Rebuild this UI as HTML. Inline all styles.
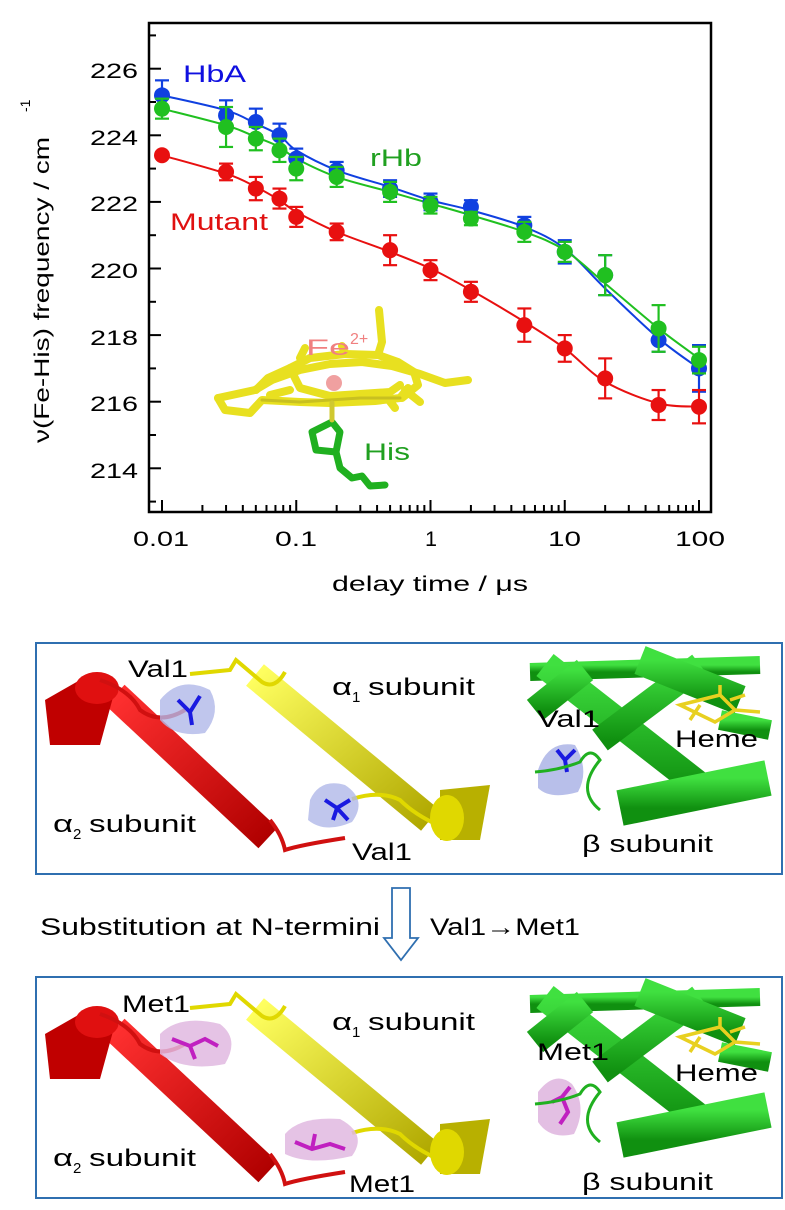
<!DOCTYPE html>
<html><head><meta charset="utf-8"><style>
html,body{margin:0;padding:0;background:#fff}
svg{display:block}
text{font-family:"Liberation Sans",Arial,sans-serif}
</style></head><body>
<svg id="s" width="785" height="1210" viewBox="0 0 785 1210" xmlns="http://www.w3.org/2000/svg">
<defs>
<linearGradient id="rg" x1="0" y1="0" x2="1" y2="1"><stop offset="0" stop-color="#ff3030"/><stop offset="1" stop-color="#b00000"/></linearGradient>
<linearGradient id="yg" x1="0" y1="0" x2="1" y2="1"><stop offset="0" stop-color="#ffff60"/><stop offset="1" stop-color="#b0a800"/></linearGradient>
<linearGradient id="gg" x1="0" y1="0" x2="0" y2="1"><stop offset="0" stop-color="#40e040"/><stop offset="1" stop-color="#109010"/></linearGradient>
</defs>
<rect x="149" y="23" width="562" height="489" fill="none" stroke="#000" stroke-width="2.5"/>
<g id="ticks" stroke="#000" stroke-width="2"></g>
<g font-size="21" fill="#000" lengthAdjust="spacingAndGlyphs">
<text x="90" y="78" textLength="48" lengthAdjust="spacingAndGlyphs">226</text>
<text x="90" y="145" textLength="48" lengthAdjust="spacingAndGlyphs">224</text>
<text x="90" y="211" textLength="48" lengthAdjust="spacingAndGlyphs">222</text>
<text x="90" y="278" textLength="48" lengthAdjust="spacingAndGlyphs">220</text>
<text x="90" y="345" textLength="48" lengthAdjust="spacingAndGlyphs">218</text>
<text x="90" y="411" textLength="48" lengthAdjust="spacingAndGlyphs">216</text>
<text x="90" y="478" textLength="48" lengthAdjust="spacingAndGlyphs">214</text>
<text x="133" y="546" textLength="56" lengthAdjust="spacingAndGlyphs">0.01</text>
<text x="275" y="546" textLength="42" lengthAdjust="spacingAndGlyphs">0.1</text>
<text x="425" y="546" textLength="12" lengthAdjust="spacingAndGlyphs">1</text>
<text x="548" y="546" textLength="33" lengthAdjust="spacingAndGlyphs">10</text>
<text x="675" y="546" textLength="50" lengthAdjust="spacingAndGlyphs">100</text>
<text x="332" y="591" textLength="196" lengthAdjust="spacingAndGlyphs">delay time / μs</text>
</g>
<text transform="translate(49,443) rotate(-90)" font-size="21" textLength="306" lengthAdjust="spacingAndGlyphs">ν(Fe-His) frequency / cm</text>
<text transform="translate(30,112) rotate(-90)" font-size="14">-1</text>
<!-- heme -->
<g stroke-linecap="round" stroke-linejoin="round" fill="none">
<g stroke="#e8e020" stroke-width="8">
<path d="M218 398 L255 390 L272 380 L300 370 L330 364 L362 362 L392 366 L420 374 L445 383 L468 380"/>
<path d="M218 398 L225 410 L250 413 L262 400 L300 402 L330 403 L375 401 L400 398 L408 388"/>
<path d="M256 390 L268 378 L290 368 L310 358 L345 354 L378 355 L398 362 L414 372 L418 385 L402 398"/>
<path d="M290 368 L300 388 L330 396 L360 394 L390 392 L400 385 M345 354 L342 346 M378 355 L382 342 L379 310 M300 358 L305 348"/>
<path d="M270 395 L290 390 M405 390 L420 402 M385 395 L395 408"/>
</g>
<g stroke="#c8c020" stroke-width="3"><path d="M262 400 L300 402 L360 398 L400 398"/></g>
<circle cx="334" cy="383" r="8" fill="#f0a0a0" stroke="none"/>
<g stroke="#20b020" stroke-width="7">
<path d="M332 422 L312 432 L316 450 L336 452 L340 432 Z"/>
<path d="M336 452 L340 468 L352 478 L362 476 L370 486 L385 485"/>
</g>
<line x1="332" y1="403" x2="332" y2="420" stroke="#d0c830" stroke-width="5"/>
</g>
<text x="306" y="355" font-size="22" fill="#f08080" textLength="44" lengthAdjust="spacingAndGlyphs">Fe</text><text x="350" y="344" font-size="16" fill="#f08080">2+</text>
<text x="364" y="460" font-size="24" fill="#20a020" textLength="46" lengthAdjust="spacingAndGlyphs">His</text>
<g id="data"></g>
<text x="183" y="82" font-size="24" fill="#1010e0" textLength="63" lengthAdjust="spacingAndGlyphs">HbA</text>
<text x="370" y="166" font-size="24" fill="#20a020" textLength="52" lengthAdjust="spacingAndGlyphs">rHb</text>
<text x="170" y="230" font-size="24" fill="#e01010" textLength="98" lengthAdjust="spacingAndGlyphs">Mutant</text>

<!-- panel 1 -->
<rect x="36" y="643" width="746" height="231" fill="none" stroke="#2f6fb0" stroke-width="2"/>
<g>
<line x1="115" y1="695" x2="268" y2="838" stroke="url(#rg)" stroke-width="28"/>
<path d="M45 700 L80 680 L115 690 L100 745 L50 745 Z" fill="#c00000"/>
<ellipse cx="97" cy="688" rx="22" ry="16" fill="#e01010"/>
<line x1="255" y1="675" x2="430" y2="820" stroke="url(#yg)" stroke-width="28"/>
<path d="M440 790 L490 785 L480 840 L440 840 Z" fill="#b8b000"/>
<ellipse cx="447" cy="818" rx="17" ry="23" fill="#e0d800"/>
<path d="M100 680 Q130 690 140 710 Q160 725 185 710" stroke="#d01010" stroke-width="4" fill="none"/>
<path d="M270 820 Q282 835 285 850 Q300 845 345 838" stroke="#d01010" stroke-width="4" fill="none"/>
<path d="M190 674 L230 670 L236 660 L262 682 Q275 690 285 672" stroke="#e0d800" stroke-width="4" fill="none"/>
<path d="M352 799 Q380 790 400 800 Q415 815 440 826" stroke="#e0d800" stroke-width="4" fill="none"/>
<path d="M160 700 Q180 675 210 690 Q222 712 205 733 Q175 738 160 720 Z" fill="#b0b8e8" opacity="0.8"/>
<path d="M310 800 Q320 778 345 785 Q368 800 352 822 Q325 834 308 820 Z" fill="#b0b8e8" opacity="0.8"/>
<path d="M178 700 L190 712 L200 696 M190 712 L192 725" stroke="#1a1ae0" stroke-width="4" fill="none"/>
<path d="M325 800 L337 808 L350 800 M337 808 L333 820 M337 808 L348 820" stroke="#1a1ae0" stroke-width="4" fill="none"/>
</g>
<g font-size="24" lengthAdjust="spacingAndGlyphs">
<text x="128" y="677" textLength="60" lengthAdjust="spacingAndGlyphs">Val1</text>
<text x="332" y="695" textLength="20" lengthAdjust="spacingAndGlyphs">α</text><text x="352" y="702" font-size="15">1</text><text x="368" y="695" textLength="107" lengthAdjust="spacingAndGlyphs">subunit</text>
<text x="53" y="832" textLength="20" lengthAdjust="spacingAndGlyphs">α</text><text x="73" y="839" font-size="15">2</text><text x="89" y="832" textLength="107" lengthAdjust="spacingAndGlyphs">subunit</text>
<text x="352" y="860" textLength="60" lengthAdjust="spacingAndGlyphs">Val1</text>
</g>
<g>
<rect x="533" y="660" width="237" height="152" fill="#fff"/>
<line x1="530" y1="672" x2="760" y2="665" stroke="url(#gg)" stroke-width="18"/>
<line x1="545" y1="665" x2="705" y2="790" stroke="url(#gg)" stroke-width="28"/>
<line x1="620" y1="808" x2="768" y2="778" stroke="url(#gg)" stroke-width="36"/>
<line x1="600" y1="740" x2="700" y2="665" stroke="url(#gg)" stroke-width="26"/>
<line x1="640" y1="660" x2="740" y2="700" stroke="url(#gg)" stroke-width="30"/>
<line x1="535" y1="710" x2="585" y2="670" stroke="url(#gg)" stroke-width="26"/>
<line x1="720" y1="720" x2="770" y2="730" stroke="url(#gg)" stroke-width="20"/>
<path d="M680 705 L700 700 L720 695 L735 710 L715 722 Z M700 705 L690 720 M730 700 L745 695 M720 695 L720 685 M735 710 L760 712" stroke="#e8d020" stroke-width="3.5" fill="none"/>
<path d="M538 770 Q548 740 575 745 Q590 770 578 792 Q550 800 538 788 Z" fill="#b0b8e8" opacity="0.9"/>
<path d="M557 750 L565 760 L575 750 M565 760 L567 772" stroke="#1a1ae0" stroke-width="4" fill="none"/>
<path d="M535 772 Q560 770 580 762 Q590 745 600 760 Q575 790 600 810" stroke="#20b020" stroke-width="3" fill="none"/>
</g>
<g font-size="24">
<text x="537" y="727" textLength="63" lengthAdjust="spacingAndGlyphs">Val1</text>
<text x="675" y="747" textLength="83" lengthAdjust="spacingAndGlyphs">Heme</text>
<text x="582" y="852" textLength="131" lengthAdjust="spacingAndGlyphs">β subunit</text>
</g>

<!-- middle -->
<text x="40" y="935" font-size="24" textLength="340" lengthAdjust="spacingAndGlyphs">Substitution at N-termini</text>
<text x="430" y="935" font-size="24" textLength="150" lengthAdjust="spacingAndGlyphs">Val1→Met1</text>
<path d="M392 888 L410 888 L410 938 L418 938 L401 960 L384 938 L392 938 Z" fill="#fff" stroke="#2f6fb0" stroke-width="1.8"/>

<!-- panel 2 -->
<rect x="36" y="977" width="746" height="221" fill="none" stroke="#2f6fb0" stroke-width="2"/>
<g transform="translate(0,334)">
<line x1="115" y1="695" x2="268" y2="838" stroke="url(#rg)" stroke-width="28"/>
<path d="M45 700 L80 680 L115 690 L100 745 L50 745 Z" fill="#c00000"/>
<ellipse cx="97" cy="688" rx="22" ry="16" fill="#e01010"/>
<line x1="255" y1="675" x2="430" y2="820" stroke="url(#yg)" stroke-width="28"/>
<path d="M440 790 L490 785 L480 840 L440 840 Z" fill="#b8b000"/>
<ellipse cx="447" cy="818" rx="17" ry="23" fill="#e0d800"/>
<path d="M100 680 Q130 690 140 710 Q160 725 185 710" stroke="#d01010" stroke-width="4" fill="none"/>
<path d="M270 820 Q282 835 285 850 Q300 845 345 838" stroke="#d01010" stroke-width="4" fill="none"/>
<path d="M190 674 L230 670 L236 660 L262 682 Q275 690 285 672" stroke="#e0d800" stroke-width="4" fill="none"/>
<path d="M352 799 Q380 790 400 800 Q415 815 440 826" stroke="#e0d800" stroke-width="4" fill="none"/>
<path d="M160 700 Q180 680 220 690 Q240 705 225 730 Q185 738 160 720 Z" fill="#e0b8e0" opacity="0.85"/>
<path d="M285 800 Q300 782 340 785 Q368 800 352 822 Q310 832 285 820 Z" fill="#e0b8e0" opacity="0.85"/>
<path d="M172 705 L190 712 L205 705 L218 712 M190 712 L195 725" stroke="#c020c0" stroke-width="4" fill="none"/>
<path d="M295 808 L312 815 L330 810 L345 815 M312 815 L315 800" stroke="#c020c0" stroke-width="4" fill="none"/>
</g>
<g font-size="24">
<text x="122" y="1012" textLength="68" lengthAdjust="spacingAndGlyphs">Met1</text>
<text x="332" y="1030" textLength="20" lengthAdjust="spacingAndGlyphs">α</text><text x="352" y="1037" font-size="15">1</text><text x="368" y="1030" textLength="107" lengthAdjust="spacingAndGlyphs">subunit</text>
<text x="53" y="1166" textLength="20" lengthAdjust="spacingAndGlyphs">α</text><text x="73" y="1173" font-size="15">2</text><text x="89" y="1166" textLength="107" lengthAdjust="spacingAndGlyphs">subunit</text>
<text x="349" y="1192" textLength="66" lengthAdjust="spacingAndGlyphs">Met1</text>
</g>
<g transform="translate(0,332)">
<rect x="533" y="660" width="237" height="152" fill="#fff"/>
<line x1="530" y1="672" x2="760" y2="665" stroke="url(#gg)" stroke-width="18"/>
<line x1="545" y1="665" x2="705" y2="790" stroke="url(#gg)" stroke-width="28"/>
<line x1="620" y1="808" x2="768" y2="778" stroke="url(#gg)" stroke-width="36"/>
<line x1="600" y1="740" x2="700" y2="665" stroke="url(#gg)" stroke-width="26"/>
<line x1="640" y1="660" x2="740" y2="700" stroke="url(#gg)" stroke-width="30"/>
<line x1="535" y1="710" x2="585" y2="670" stroke="url(#gg)" stroke-width="26"/>
<line x1="720" y1="720" x2="770" y2="730" stroke="url(#gg)" stroke-width="20"/>
<path d="M680 705 L700 700 L720 695 L735 710 L715 722 Z M700 705 L690 720 M730 700 L745 695 M720 695 L720 685 M735 710 L760 712" stroke="#e8d020" stroke-width="3.5" fill="none"/>
<path d="M538 760 Q555 738 572 752 Q588 775 574 802 Q550 808 538 790 Z" fill="#e0b8e0" opacity="0.9"/>
<path d="M552 770 L562 765 L568 780 L560 792 M562 765 L570 755" stroke="#c020c0" stroke-width="4" fill="none"/>
<path d="M535 772 Q560 770 580 762 Q590 745 600 760 Q575 790 600 810" stroke="#20b020" stroke-width="3" fill="none"/>
</g>
<g font-size="24">
<text x="537" y="1060" textLength="72" lengthAdjust="spacingAndGlyphs">Met1</text>
<text x="675" y="1081" textLength="83" lengthAdjust="spacingAndGlyphs">Heme</text>
<text x="582" y="1190" textLength="131" lengthAdjust="spacingAndGlyphs">β subunit</text>
</g>
</svg>
<script>
var NS="http://www.w3.org/2000/svg";
function X(t){return 162+134.25*(Math.log10(t)+2);}
function Y(v){return 68.7+(226-v)*33.3;}
function el(p,n,a){var e=document.createElementNS(NS,n);for(var k in a)e.setAttribute(k,a[k]);p.appendChild(e);return e;}
var tk=document.getElementById('ticks');
for(var d=-2;d<=2;d++){for(var m=1;m<=9;m++){var t=m*Math.pow(10,d);if(t>100.001)break;if(t<0.0099)continue;var x=X(t);var L=(m==1)?12:7;el(tk,'line',{x1:x,y1:512,x2:x,y2:512-L});}}
for(var v=213;v<=227;v++){var y=Y(v);el(tk,'line',{x1:149,y1:y,x2:149+(v%2==0?12:7),y2:y});}
var T=[0.01,0.03,0.05,0.075,0.1,0.2,0.5,1,2,5,10,20,50,100];
var S=[
{c:'#1040e0',v:[225.2,224.6,224.4,224.0,223.3,222.95,222.4,222.0,221.85,221.3,220.5,219.8,217.85,217.0],f:[225.2,224.75,224.35,224.0,223.55,222.95,222.45,222.05,221.75,221.25,220.6,219.4,217.9,217.0],e:[0.45,0.45,0.4,0.35,0.3,0.25,0.25,0.25,0.2,0.25,0.35,0.6,0.35,0.7]},
{c:'#20c020',v:[224.8,224.25,223.9,223.55,223.0,222.75,222.3,221.9,221.5,221.1,220.5,219.8,218.2,217.25],f:[224.8,224.3,223.95,223.65,223.3,222.75,222.3,221.95,221.6,221.1,220.55,219.55,218.2,217.3],e:[0.3,0.6,0.35,0.35,0.35,0.3,0.3,0.25,0.2,0.3,0.3,0.6,0.7,0.4]},
{c:'#e81010',v:[223.4,222.9,222.4,222.1,221.55,221.1,220.55,219.95,219.3,218.3,217.6,216.7,215.9,215.85],f:[223.4,222.85,222.45,222.05,221.7,221.1,220.5,220.0,219.35,218.4,217.6,216.6,215.95,215.85],e:[0,0.25,0.35,0.3,0.3,0.25,0.45,0.3,0.3,0.5,0.4,0.6,0.45,0.5]}];
var g=document.getElementById('data');
S.forEach(function(s){var P=T.map(function(t,i){return [X(t),Y(s.f[i])];});var d='M'+P[0][0]+' '+P[0][1];
for(var i=0;i<P.length-1;i++){var p0=P[Math.max(0,i-1)],p1=P[i],p2=P[i+1],p3=P[Math.min(P.length-1,i+2)];
d+=' C'+(p1[0]+(p2[0]-p0[0])/6)+' '+(p1[1]+(p2[1]-p0[1])/6)+' '+(p2[0]-(p3[0]-p1[0])/6)+' '+(p2[1]-(p3[1]-p1[1])/6)+' '+p2[0]+' '+p2[1];}
el(g,'path',{d:d,stroke:s.c,'stroke-width':2,fill:'none'});});
S.forEach(function(s){T.forEach(function(t,i){var x=X(t),y1=Y(s.v[i]+s.e[i]),y2=Y(s.v[i]-s.e[i]);
if(s.e[i]>0){el(g,'line',{x1:x,y1:y1,x2:x,y2:y2,stroke:s.c,'stroke-width':2.2});el(g,'line',{x1:x-7,y1:y1,x2:x+7,y2:y1,stroke:s.c,'stroke-width':2.2});el(g,'line',{x1:x-7,y1:y2,x2:x+7,y2:y2,stroke:s.c,'stroke-width':2.2});}
el(g,'circle',{cx:x,cy:Y(s.v[i]),r:8,fill:s.c});});});
</script>
</body></html>
